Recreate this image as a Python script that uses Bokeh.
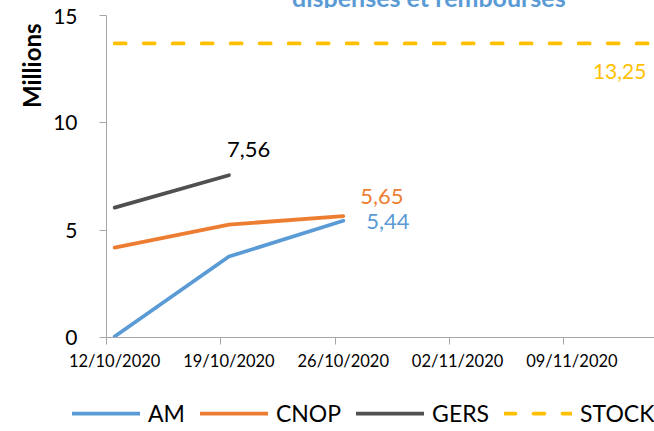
from datetime import datetime, timedelta
from bokeh.plotting import figure
from bokeh.layouts import column
from bokeh.models import (Range1d, FixedTicker, DatetimeTickFormatter, Title,
                          Legend, LegendItem, Div)
from bokeh.core.properties import value
from bokeh.embed import file_html
from bokeh.resources import INLINE

# ---- data ----
dates = ["12/10/2020", "19/10/2020", "26/10/2020"]
am = [0.05, 3.77, 5.44]
cnop = [4.19, 5.26, 5.65]
gers_dates = ["12/10/2020", "19/10/2020"]
gers = [6.05, 7.56]
stock_dates = ["12/10/2020", "19/10/2020", "26/10/2020", "02/11/2020",
               "09/11/2020", "16/11/2020"]
stock = [13.7, 13.7, 13.7, 13.7, 13.7, 13.7]
tick_dates = ["12/10/2020", "19/10/2020", "26/10/2020", "02/11/2020",
              "09/11/2020", "16/11/2020"]
y_ticks = [0, 5, 10, 15]
series_names = ["AM", "CNOP", "GERS", "STOCK"]
label_gers = "7,56"
label_cnop = "5,65"
label_am = "5,44"
label_stock = "13,25"
y_title = "Millions"
chart_title = "dispensés et remboursés"

C_AM = "#5B9BD5"
C_CNOP = "#ED7D31"
C_GERS = "#505050"
C_STOCK = "#FFC000"
AXIS_C = "#A6A6A6"
FONT = "Lato"


def d(s):
    return datetime.strptime(s, "%d/%m/%Y")


def ms(dt):
    return (dt - datetime(1970, 1, 1)).total_seconds() * 1000.0


# title strip: only the lower part of the title line shows at the top edge
title_div = Div(
    text=('<div style="position:relative; top:-15px; margin-left:292px; '
          'white-space:nowrap; font-family:Lato; font-weight:bold; '
          'font-size:25px; line-height:25px; color:%s;">%s</div>'
          % (C_AM, chart_title)),
    width=654, height=8, styles={"overflow": "hidden", "margin": "0",
                                 "padding": "0"})

half_day = timedelta(hours=12)
x_start = d(tick_dates[0]) - half_day
x_end = x_start + timedelta(days=33.56)

fig = figure(width=654, height=387, x_axis_type="datetime",
             output_backend="svg", toolbar_location=None,
             x_range=Range1d(x_start, x_end), y_range=Range1d(0, 15),
             min_border_left=106, min_border_right=0, min_border_top=7,
             min_border_bottom=58)
fig.frame_align = False
fig.xgrid.visible = False
fig.ygrid.visible = False
fig.outline_line_color = None

# x axis
major = [ms(d(t)) for t in tick_dates]
minor = [ms(d(t) - half_day) for t in tick_dates]
fig.xaxis.ticker = FixedTicker(ticks=major, minor_ticks=minor)
fmt = "%d/%m/%Y"
fig.xaxis.formatter = DatetimeTickFormatter(
    microseconds=fmt, milliseconds=fmt, seconds=fmt, minsec=fmt,
    minutes=fmt, hourmin=fmt, hours=fmt, days=fmt, months=fmt, years=fmt)
fig.xaxis.major_tick_out = 0
fig.xaxis.major_tick_in = 0
fig.xaxis.minor_tick_out = 7
fig.xaxis.minor_tick_in = 0
fig.xaxis.minor_tick_line_color = AXIS_C
fig.xaxis.axis_line_color = AXIS_C
fig.xaxis.major_label_text_font = FONT
fig.xaxis.major_label_text_font_size = "16.5px"
fig.xaxis.major_label_text_color = "black"
fig.xaxis.major_label_standoff = 6

# y axis
fig.yaxis.ticker = FixedTicker(ticks=y_ticks)
fig.yaxis.major_tick_out = 7
fig.yaxis.major_tick_in = 0
fig.yaxis.minor_tick_line_color = None
fig.yaxis.major_tick_line_color = AXIS_C
fig.yaxis.axis_line_color = AXIS_C
fig.yaxis.major_label_text_font = FONT
fig.yaxis.major_label_text_font_size = "21px"
fig.yaxis.major_label_text_color = "black"
fig.yaxis.major_label_standoff = 22

# y title ("Millions") near the top of the axis
fig.add_layout(Title(text=y_title, align="right", offset=8, standoff=9,
                     text_font=FONT, text_font_style="bold",
                     text_font_size="24px", text_color="black"), "left")

# series
lw = 3.75
styles = [dict(line_color=C_AM, line_width=lw, line_cap="round", line_join="round"),
          dict(line_color=C_CNOP, line_width=lw, line_cap="round", line_join="round"),
          dict(line_color=C_GERS, line_width=lw, line_cap="round", line_join="round"),
          dict(line_color=C_STOCK, line_width=lw, line_cap="round", line_dash="11 18")]
series_x = [[d(x) for x in dates], [d(x) for x in dates],
            [d(x) for x in gers_dates], [d(x) for x in stock_dates]]
series_y = [am, cnop, gers, stock]

for xs, ys, st in zip(series_x, series_y, styles):
    fig.line(xs, ys, **st)


# data labels
def dlabel(x, y, txt, color, xo, yo, size="22px"):
    fig.text(x=[x], y=[y], text=[txt], text_color=color,
             text_font=value(FONT), text_font_size=size,
             text_align="left", text_baseline="middle",
             x_offset=xo, y_offset=yo)


dlabel(d(gers_dates[-1]), gers[-1], label_gers, "black", -2, -26)
dlabel(d(dates[-1]), cnop[-1], label_cnop, C_CNOP, 17, -20)
dlabel(d(dates[-1]), am[-1], label_am, C_AM, 23, 1)
dlabel(d(stock_dates[4]), stock[4], label_stock, C_STOCK, 21, 28, "21px")

# legend strip below the chart (its own frame spans the full width; the
# series drawn here fall outside this strip's ranges, only the legend shows)
lf = figure(width=654, height=36, output_backend="svg", toolbar_location=None,
            x_range=Range1d(0, 1), y_range=Range1d(0, 1),
            x_axis_location=None, y_axis_location=None,
            min_border_left=0, min_border_right=0, min_border_top=0,
            min_border_bottom=0)
lf.frame_align = False
lf.xgrid.visible = False
lf.ygrid.visible = False
lf.outline_line_color = None
rends = [lf.line(xs, ys, **st) for xs, ys, st in zip(series_x, series_y, styles)]
legend = Legend(items=[LegendItem(label=n, renderers=[r])
                       for n, r in zip(series_names, rends)],
                orientation="horizontal", location=(72, 4),
                glyph_width=68, glyph_height=24, label_height=24,
                label_standoff=8, spacing=15, padding=0, margin=0,
                border_line_alpha=0, background_fill_alpha=0,
                label_text_font=FONT, label_text_font_size="23px",
                label_text_color="black")
lf.add_layout(legend)

p = column(title_div, fig, lf, spacing=0)
open("out.html", "w").write(file_html(p, INLINE))
